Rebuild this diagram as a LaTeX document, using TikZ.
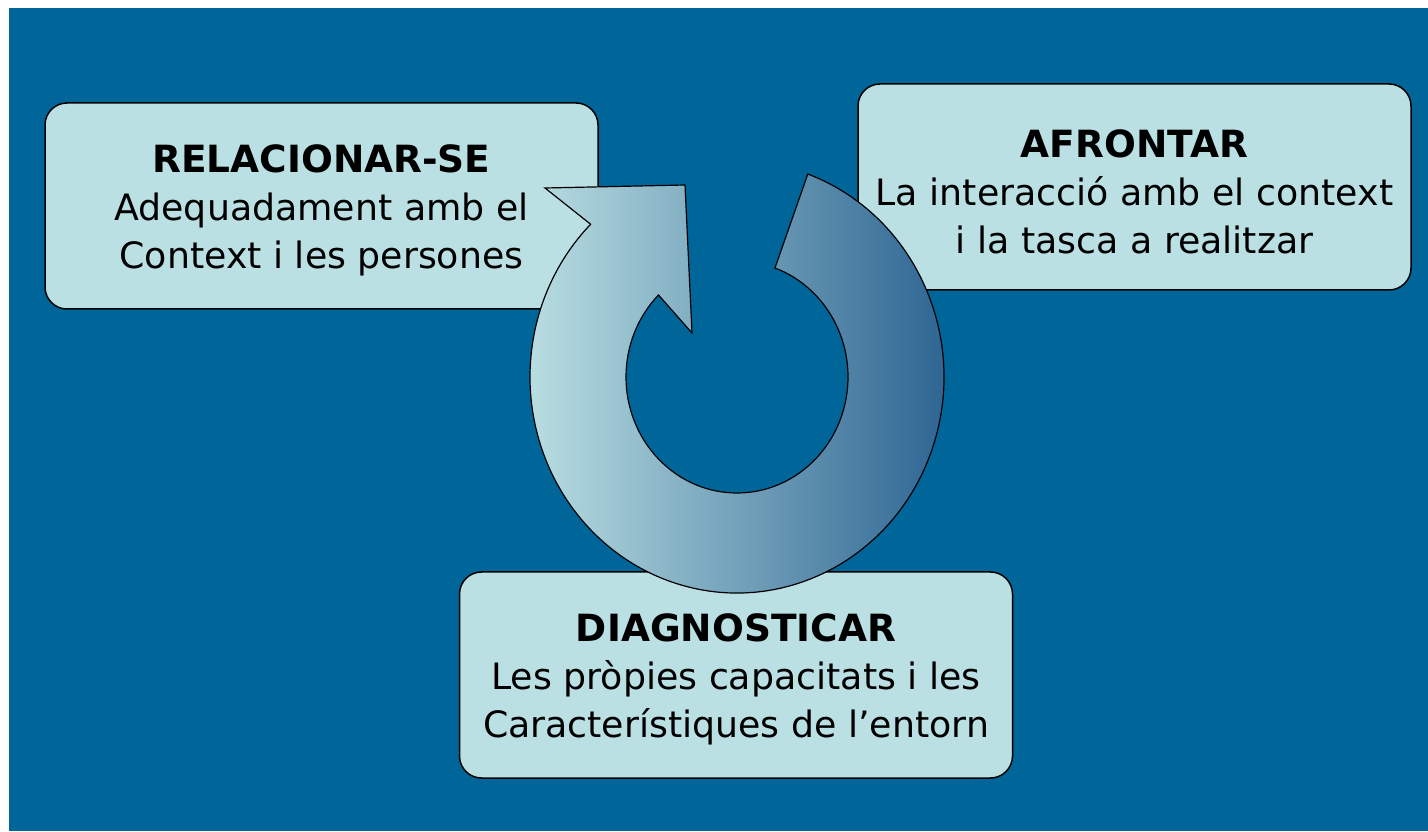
\documentclass[tikz,border=0pt]{standalone}
\usepackage{fontspec}
\setmainfont{DejaVu Sans}
\usetikzlibrary{calc}
\definecolor{bgblue}{HTML}{006699}
\definecolor{boxfill}{HTML}{BBE0E3}
\definecolor{ringdark}{RGB}{38,94,142}
\newcommand{\stagetitle}[1]{{\bfseries\fontsize{37.5}{48}\selectfont #1}\rule{0pt}{37pt}}

\begin{document}
\begin{tikzpicture}[
    x=1pt, y=1pt,
    stage/.style={
      rectangle,
      rounded corners=22pt,
      draw=black,
      line width=1.5pt,
      fill=boxfill,
      minimum width=553pt,
      minimum height=206pt,
      align=center,
      font=\fontsize{36.3}{48}\selectfont,
    },
    cycle arrow/.style={
      draw=black,
      line width=1.2pt,
      left color=boxfill,
      right color=ringdark,
    },
  ]
  \useasboundingbox (0,0) rectangle (1428,831);
  \fill[bgblue] (9,0) rectangle (1428,823);

  \node[stage](relacionar) at (321.5,625) {\stagetitle{RELACIONAR-SE}\\Adequadament amb el\\Context i les persones};
  \node[stage](afrontar) at (1134.5,644) {\stagetitle{AFRONTAR}\\La interacció amb el context\\i la tasca a realitzar};
  \node[stage](diagnosticar) at (736,156) {\stagetitle{DIAGNOSTICAR}\\Les pròpies capacitats i les\\Característiques de l’entorn};

  % circular arrow
  \coordinate (ring) at (737,454);
  \coordinate (barb) at (545,643);
  \coordinate (apex) at (685,646);
  \coordinate (barbin) at (692,498);
  \draw[cycle arrow]
      ($(ring)+(70:207 and 216)$) arc[start angle=70, end angle=-225, x radius=207, y radius=216]
      -- (barb) -- (apex) -- (barbin)
      -- ($(ring)+(135:111 and 116)$) arc[start angle=135, end angle=430, x radius=111, y radius=116]
      -- cycle;
\end{tikzpicture}
\end{document}
